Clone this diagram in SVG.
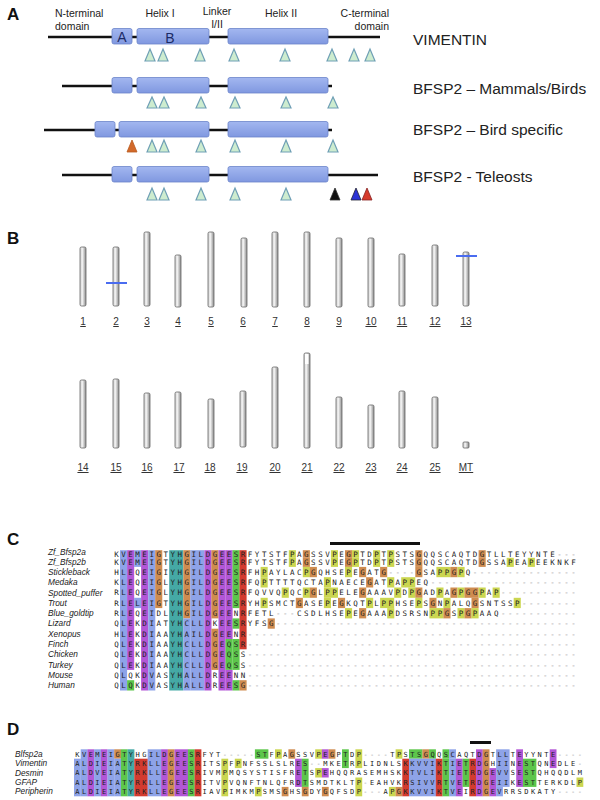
<svg xmlns="http://www.w3.org/2000/svg" width="600" height="800" viewBox="0 0 600 800">
<defs>
<linearGradient id="gb" x1="0" y1="0" x2="0" y2="1"><stop offset="0" stop-color="#a3b7f0"/><stop offset="1" stop-color="#8098e0"/></linearGradient>
<linearGradient id="gc" x1="0" y1="0" x2="1" y2="0"><stop offset="0" stop-color="#d0d0d0"/><stop offset="0.4" stop-color="#f2f2f2"/><stop offset="1" stop-color="#8a8a8a"/></linearGradient>
<style>
.lbl{font-family:"Liberation Sans",Arial,sans-serif;font-weight:bold;font-size:17px;fill:#111}
.dom{font-family:"Liberation Sans",Arial,sans-serif;font-size:10.5px;fill:#222}
.nm{font-family:"Liberation Sans",Arial,sans-serif;font-size:15.5px;fill:#222}
.bx{fill:url(#gb);stroke:#6b84c9;stroke-width:0.8}
.ln{stroke:#111;stroke-width:2.5;fill:none}
.tg{fill:#cdeccf;stroke:#6f9fb5;stroke-width:1.2}
.chr{fill:url(#gc);stroke:#666;stroke-width:0.8}
.cl{font-family:"Liberation Sans",Arial,sans-serif;font-size:10px;text-anchor:middle;text-decoration:underline;fill:#333}
.blu{stroke:#4a6cf0;stroke-width:2}
.sp{font-family:"Liberation Sans",Arial,sans-serif;font-style:italic;font-size:8.3px;fill:#222}
.sq{font-family:"DejaVu Sans Mono",monospace;font-size:7.5px;letter-spacing:2.515px;fill:#222}
.sqd{font-family:"DejaVu Sans Mono",monospace;font-size:7px;letter-spacing:2.486px;fill:#222}
.ds{fill:#999}
.b{fill:#8ea3e8}.p{fill:#b256d6}.t{fill:#45a9a5}.o{fill:#cf8c50}.g{fill:#5dc64b}.r{fill:#d23b2f}.y{fill:#cbd650}
</style>
</defs>
<rect width="600" height="800" fill="#fff"/>

<g id="panelA">
<text class="lbl" x="7" y="20">A</text>
<text class="dom" x="55" y="17">N-terminal</text>
<text class="dom" x="55" y="30">domain</text>
<text class="dom" x="160" y="17" text-anchor="middle">Helix I</text>
<text class="dom" x="217" y="15" text-anchor="middle">Linker</text>
<text class="dom" x="217" y="28" text-anchor="middle">I/II</text>
<text class="dom" x="281" y="17" text-anchor="middle">Helix II</text>
<text class="dom" x="389" y="17" text-anchor="end">C-terminal</text>
<text class="dom" x="389" y="30" text-anchor="end">domain</text>

<g id="vimentin">
<line class="ln" x1="48" y1="37" x2="380" y2="37"/>
<rect class="bx" x="112" y="28.5" width="20" height="15.5" rx="2"/>
<rect class="bx" x="137" y="28.5" width="72" height="15.5" rx="2"/>
<rect class="bx" x="228" y="28.5" width="100" height="15.5" rx="2"/>
<text x="122" y="42" text-anchor="middle" font-family="Liberation Sans, sans-serif" font-size="14" fill="#1c2b66">A</text>
<text x="170" y="43" text-anchor="middle" font-family="Liberation Sans, sans-serif" font-size="14" fill="#1c2b66">B</text>
<polygon class="tg" points="145,61 150,49 155,61"/>
<polygon class="tg" points="158,61 163,49 168,61"/>
<polygon class="tg" points="195,61 200,49 205,61"/>
<polygon class="tg" points="229,61 234,49 239,61"/>
<polygon class="tg" points="280,61 285,49 290,61"/>
<polygon class="tg" points="327,61 332,49 337,61"/>
<polygon class="tg" points="349,61 354,49 359,61"/>
<polygon class="tg" points="365,61 370,49 375,61"/>
<text class="nm" x="413" y="45">VIMENTIN</text>
</g>

<g id="mammals">
<line class="ln" x1="62" y1="86" x2="332" y2="86"/>
<rect class="bx" x="112" y="77.5" width="20" height="15.5" rx="2"/>
<rect class="bx" x="137" y="77.5" width="72" height="15.5" rx="2"/>
<rect class="bx" x="228" y="77.5" width="100" height="15.5" rx="2"/>
<polygon class="tg" points="147,108 152,97 157,108"/>
<polygon class="tg" points="159,108 164,97 169,108"/>
<polygon class="tg" points="196,108 201,97 206,108"/>
<polygon class="tg" points="230,108 235,97 240,108"/>
<polygon class="tg" points="281,108 286,97 291,108"/>
<polygon class="tg" points="328,108 333,97 338,108"/>
<text class="nm" x="413" y="94">BFSP2 – Mammals/Birds</text>
</g>

<g id="birds">
<line class="ln" x1="44" y1="130" x2="332" y2="130"/>
<rect class="bx" x="95" y="121.5" width="20" height="15.5" rx="2"/>
<rect class="bx" x="119" y="121.5" width="90" height="15.5" rx="2"/>
<rect class="bx" x="228" y="121.5" width="100" height="15.5" rx="2"/>
<polygon points="127,152 132,140 137,152" fill="#d2692a" stroke="#b85a20" stroke-width="0.8"/>
<polygon class="tg" points="147,152 152,140 157,152"/>
<polygon class="tg" points="159,152 164,140 169,152"/>
<polygon class="tg" points="196,152 201,140 206,152"/>
<polygon class="tg" points="230,152 235,140 240,152"/>
<polygon class="tg" points="281,152 286,140 291,152"/>
<polygon class="tg" points="328,152 333,140 338,152"/>
<text class="nm" x="413" y="135">BFSP2 – Bird specific</text>
</g>

<g id="teleosts">
<line class="ln" x1="62" y1="175" x2="378" y2="175"/>
<rect class="bx" x="112" y="166.5" width="20" height="15.5" rx="2"/>
<rect class="bx" x="137" y="166.5" width="72" height="15.5" rx="2"/>
<rect class="bx" x="228" y="166.5" width="100" height="15.5" rx="2"/>
<polygon class="tg" points="147,200 152,188 157,200"/>
<polygon class="tg" points="159,200 164,188 169,200"/>
<polygon class="tg" points="196,200 201,188 206,200"/>
<polygon class="tg" points="230,200 235,188 240,200"/>
<polygon class="tg" points="281,200 286,188 291,200"/>
<polygon points="330,200 335,188 340,200" fill="#111" stroke="#333" stroke-width="0.8"/>
<polygon points="351,200 356,188 361,200" fill="#2b33d6" stroke="#223" stroke-width="0.8"/>
<polygon points="362,200 367,188 372,200" fill="#d53a2c" stroke="#822" stroke-width="0.8"/>
<text class="nm" x="413" y="182">BFSP2 - Teleosts</text>
</g>
</g>

<g id="panelB">
<text class="lbl" x="7" y="244">B</text>
<g id="chr-row1">
<rect class="chr" x="80" y="247" width="6" height="59" rx="1.5"/>
<rect class="chr" x="113" y="247" width="6" height="59" rx="1.5"/>
<rect class="chr" x="144" y="232" width="6" height="74" rx="1.5"/>
<rect class="chr" x="175" y="255" width="6" height="52" rx="1.5"/>
<rect class="chr" x="208" y="232" width="6" height="75" rx="1.5"/>
<rect class="chr" x="241" y="238" width="6" height="69" rx="1.5"/>
<rect class="chr" x="272" y="232" width="6" height="75" rx="1.5"/>
<rect class="chr" x="304" y="232" width="6" height="75" rx="1.5"/>
<rect class="chr" x="336" y="238" width="6" height="69" rx="1.5"/>
<rect class="chr" x="368" y="238" width="6" height="69" rx="1.5"/>
<rect class="chr" x="399" y="254" width="6" height="52" rx="1.5"/>
<rect class="chr" x="432" y="245" width="6" height="61" rx="1.5"/>
<rect class="chr" x="463" y="252" width="6" height="54" rx="1.5"/>
<line class="blu" x1="106" y1="283" x2="127" y2="283"/>
<line class="blu" x1="456" y1="256" x2="477" y2="256"/>
<text class="cl" x="83" y="325">1</text>
<text class="cl" x="116" y="325">2</text>
<text class="cl" x="147" y="325">3</text>
<text class="cl" x="178" y="325">4</text>
<text class="cl" x="211" y="325">5</text>
<text class="cl" x="243" y="325">6</text>
<text class="cl" x="275" y="325">7</text>
<text class="cl" x="307" y="325">8</text>
<text class="cl" x="339" y="325">9</text>
<text class="cl" x="371" y="325">10</text>
<text class="cl" x="402" y="325">11</text>
<text class="cl" x="435" y="325">12</text>
<text class="cl" x="466" y="325">13</text>
</g>
<g id="chr-row2">
<rect class="chr" x="80" y="380" width="6" height="68" rx="1.5"/>
<rect class="chr" x="113" y="379" width="6" height="69" rx="1.5"/>
<rect class="chr" x="144" y="393" width="6" height="55" rx="1.5"/>
<rect class="chr" x="175" y="392" width="6" height="56" rx="1.5"/>
<rect class="chr" x="208" y="399" width="6" height="49" rx="1.5"/>
<rect class="chr" x="240" y="391" width="6" height="56" rx="1.5"/>
<rect class="chr" x="272" y="367" width="6" height="81" rx="1.5"/>
<rect class="chr" x="304" y="353" width="6" height="95" rx="1.5"/>
<rect x="305" y="354" width="3.5" height="10" fill="#fff"/>
<rect class="chr" x="336" y="397" width="6" height="51" rx="1.5"/>
<rect class="chr" x="368" y="405" width="6" height="43" rx="1.5"/>
<rect class="chr" x="399" y="391" width="6" height="57" rx="1.5"/>
<rect class="chr" x="432" y="397" width="6" height="51" rx="1.5"/>
<rect class="chr" x="463" y="442" width="6" height="6" rx="1"/>
<text class="cl" x="83" y="471">14</text>
<text class="cl" x="116" y="471">15</text>
<text class="cl" x="147" y="471">16</text>
<text class="cl" x="179" y="471">17</text>
<text class="cl" x="210" y="471">18</text>
<text class="cl" x="242" y="471">19</text>
<text class="cl" x="275" y="471">20</text>
<text class="cl" x="307" y="471">21</text>
<text class="cl" x="339" y="471">22</text>
<text class="cl" x="371" y="471">23</text>
<text class="cl" x="402" y="471">24</text>
<text class="cl" x="435" y="471">25</text>
<text class="cl" x="466" y="471">MT</text>
</g>
</g>

<g id="panelC">
<text class="lbl" x="7" y="545">C</text>
<rect x="330" y="542" width="90" height="3" fill="#111"/>
<g id="c-colors">
<rect class="b" x="120.0" y="550.2" width="7.1" height="140.3"/>
<rect class="p" x="127.1" y="550.2" width="7.1" height="119.7"/>
<rect class="g" x="127.1" y="680.2" width="7.1" height="10.3"/>
<rect class="b" x="134.1" y="550.2" width="7.1" height="16.7"/>
<rect class="b" x="134.1" y="597.8" width="7.1" height="10.3"/>
<rect class="p" x="141.1" y="550.2" width="7.1" height="140.3"/>
<rect class="b" x="148.2" y="550.2" width="7.1" height="140.3"/>
<rect class="o" x="155.2" y="550.2" width="7.1" height="57.9"/>
<rect class="t" x="169.2" y="550.2" width="14.1" height="140.3"/>
<rect class="o" x="183.3" y="550.2" width="7.1" height="68.2"/>
<rect class="b" x="183.3" y="618.4" width="7.1" height="72.1"/>
<rect class="b" x="190.3" y="550.2" width="14.1" height="140.3"/>
<rect class="p" x="204.4" y="550.2" width="7.1" height="140.3"/>
<rect class="o" x="211.4" y="550.2" width="7.1" height="68.2"/>
<rect class="o" x="211.4" y="628.7" width="7.1" height="41.2"/>
<rect class="p" x="218.5" y="550.2" width="7.1" height="140.3"/>
<rect class="p" x="225.5" y="550.2" width="7.1" height="88.8"/>
<rect class="g" x="225.5" y="639.0" width="7.1" height="30.9"/>
<rect class="p" x="225.5" y="669.9" width="7.1" height="20.6"/>
<rect class="g" x="232.5" y="550.2" width="7.1" height="57.9"/>
<rect class="g" x="232.5" y="618.4" width="7.1" height="10.3"/>
<rect class="g" x="232.5" y="639.0" width="7.1" height="30.9"/>
<rect class="g" x="232.5" y="680.2" width="7.1" height="10.3"/>
<rect class="r" x="239.5" y="550.2" width="7.1" height="99.1"/>
<rect class="o" x="239.5" y="680.2" width="7.1" height="10.3"/>
<rect class="y" x="288.8" y="550.2" width="7.1" height="7.6"/>
<rect class="o" x="302.8" y="550.2" width="7.1" height="7.6"/>
<rect class="y" x="330.9" y="550.2" width="7.1" height="7.6"/>
<rect class="o" x="345.0" y="550.2" width="7.1" height="7.6"/>
<rect class="y" x="352.0" y="550.2" width="7.1" height="7.6"/>
<rect class="y" x="373.1" y="550.2" width="7.1" height="7.6"/>
<rect class="y" x="387.2" y="550.2" width="7.1" height="7.6"/>
<rect class="o" x="415.3" y="550.2" width="7.1" height="7.6"/>
<rect class="o" x="478.6" y="550.2" width="7.1" height="7.6"/>
<rect class="y" x="288.8" y="557.8" width="7.1" height="9.1"/>
<rect class="o" x="302.8" y="557.8" width="7.1" height="9.1"/>
<rect class="y" x="330.9" y="557.8" width="7.1" height="9.1"/>
<rect class="o" x="345.0" y="557.8" width="7.1" height="9.1"/>
<rect class="y" x="352.0" y="557.8" width="7.1" height="9.1"/>
<rect class="y" x="373.1" y="557.8" width="7.1" height="9.1"/>
<rect class="y" x="387.2" y="557.8" width="7.1" height="9.1"/>
<rect class="o" x="415.3" y="557.8" width="7.1" height="9.1"/>
<rect class="o" x="478.6" y="557.8" width="7.1" height="9.1"/>
<rect class="y" x="506.7" y="557.8" width="7.1" height="9.1"/>
<rect class="y" x="527.8" y="557.8" width="7.1" height="9.1"/>
<rect class="y" x="260.6" y="566.9" width="7.1" height="10.3"/>
<rect class="y" x="302.8" y="566.9" width="7.1" height="10.3"/>
<rect class="o" x="309.8" y="566.9" width="7.1" height="10.3"/>
<rect class="y" x="345.0" y="566.9" width="7.1" height="10.3"/>
<rect class="o" x="359.1" y="566.9" width="7.1" height="10.3"/>
<rect class="o" x="380.1" y="566.9" width="7.1" height="10.3"/>
<rect class="o" x="415.3" y="566.9" width="7.1" height="10.3"/>
<rect class="y" x="436.4" y="566.9" width="14.1" height="10.3"/>
<rect class="o" x="450.4" y="566.9" width="7.1" height="10.3"/>
<rect class="y" x="457.5" y="566.9" width="7.1" height="10.3"/>
<rect class="y" x="260.6" y="577.2" width="7.1" height="10.3"/>
<rect class="y" x="323.9" y="577.2" width="7.1" height="10.3"/>
<rect class="o" x="366.1" y="577.2" width="7.1" height="10.3"/>
<rect class="y" x="387.2" y="577.2" width="7.1" height="10.3"/>
<rect class="y" x="401.2" y="577.2" width="14.1" height="10.3"/>
<rect class="y" x="281.7" y="587.5" width="7.1" height="10.3"/>
<rect class="y" x="302.8" y="587.5" width="7.1" height="10.3"/>
<rect class="o" x="309.8" y="587.5" width="7.1" height="10.3"/>
<rect class="y" x="323.9" y="587.5" width="14.1" height="10.3"/>
<rect class="o" x="359.1" y="587.5" width="7.1" height="10.3"/>
<rect class="y" x="394.2" y="587.5" width="7.1" height="10.3"/>
<rect class="y" x="408.3" y="587.5" width="7.1" height="10.3"/>
<rect class="o" x="415.3" y="587.5" width="7.1" height="10.3"/>
<rect class="y" x="436.4" y="587.5" width="7.1" height="10.3"/>
<rect class="o" x="450.4" y="587.5" width="7.1" height="10.3"/>
<rect class="y" x="457.5" y="587.5" width="7.1" height="10.3"/>
<rect class="o" x="464.5" y="587.5" width="14.1" height="10.3"/>
<rect class="y" x="478.6" y="587.5" width="7.1" height="10.3"/>
<rect class="y" x="492.6" y="587.5" width="7.1" height="10.3"/>
<rect class="y" x="260.6" y="597.8" width="7.1" height="10.3"/>
<rect class="o" x="295.8" y="597.8" width="7.1" height="10.3"/>
<rect class="y" x="323.9" y="597.8" width="7.1" height="10.3"/>
<rect class="o" x="338.0" y="597.8" width="7.1" height="10.3"/>
<rect class="y" x="366.1" y="597.8" width="7.1" height="10.3"/>
<rect class="y" x="380.1" y="597.8" width="14.1" height="10.3"/>
<rect class="y" x="415.3" y="597.8" width="7.1" height="10.3"/>
<rect class="o" x="429.4" y="597.8" width="7.1" height="10.3"/>
<rect class="y" x="443.4" y="597.8" width="7.1" height="10.3"/>
<rect class="o" x="471.5" y="597.8" width="7.1" height="10.3"/>
<rect class="y" x="513.7" y="597.8" width="7.1" height="10.3"/>
<rect class="y" x="345.0" y="608.1" width="7.1" height="10.3"/>
<rect class="o" x="359.1" y="608.1" width="7.1" height="10.3"/>
<rect class="y" x="387.2" y="608.1" width="7.1" height="10.3"/>
<rect class="y" x="429.4" y="608.1" width="14.1" height="10.3"/>
<rect class="o" x="443.4" y="608.1" width="7.1" height="10.3"/>
<rect class="y" x="457.5" y="608.1" width="7.1" height="10.3"/>
<rect class="o" x="464.5" y="608.1" width="7.1" height="10.3"/>
<rect class="y" x="471.5" y="608.1" width="7.1" height="10.3"/>
<rect class="o" x="267.7" y="618.4" width="7.1" height="10.3"/>
</g>
<g id="c-names">
<text class="sp" x="48" y="555.4" font-size="7.6">Zf_Bfsp2a</text>
<text class="sp" x="48" y="564.9" font-size="7.6">Zf_Bfsp2b</text>
<text class="sp" x="48" y="574.9">Stickleback</text>
<text class="sp" x="48" y="585.2">Medaka</text>
<text class="sp" x="48" y="595.5">Spotted_puffer</text>
<text class="sp" x="48" y="605.8">Trout</text>
<text class="sp" x="48" y="616.1">Blue_goldtip</text>
<text class="sp" x="48" y="626.4">Lizard</text>
<text class="sp" x="48" y="636.7">Xenopus</text>
<text class="sp" x="48" y="647.0">Finch</text>
<text class="sp" x="48" y="657.3">Chicken</text>
<text class="sp" x="48" y="667.6">Turkey</text>
<text class="sp" x="48" y="677.9">Mouse</text>
<text class="sp" x="48" y="688.2">Human</text>
</g>
<g id="c-seqs">
<text class="sq" x="114.26" y="556.5">KVEMEIGTYHGILDGEESRFYTSTFPAGSSVPEGPTDPTPSTSGQQSCAQTDGTLLTEYYNTE<tspan class="ds">---</tspan></text>
<text class="sq" x="114.26" y="564.8">KVEMEIGTYHGILDGEESRFYTSTFPAGSSVPEGPTDPTPSTSGQQSCAQTDGSSAPEAPEEKNKF</text>
<text class="sq" x="114.26" y="574.8">HLEQEIGIYHGILDGEESRFHPAYLACPGQHSEPEGATG<tspan class="ds">----</tspan>GSAPPGPQ<tspan class="ds">---------------</tspan></text>
<text class="sq" x="114.26" y="585.1">KLEQEIGLYHGILDGEESRFQPTTTTQCTAPNAECEGATPAPPEQ<tspan class="ds">---------------------</tspan></text>
<text class="sq" x="114.26" y="595.4">RLEQEIGLYHGILDGEESRFQVVQPQCPGLPPELEGAAAVPDPGADPAGPGGPAP<tspan class="ds">-----------</tspan></text>
<text class="sq" x="114.26" y="605.7">RLELEIGTYHGILDGEESRYHPSMCTGASEPEGKQTPLPPHSEPSGNPALQGSNTSSP<tspan class="ds">--------</tspan></text>
<text class="sq" x="114.26" y="616.0">RLEQEIDLYHGILDGEENRFETL<tspan class="ds">---</tspan>CSDLHSEPEGAAAPDSRSNPPGSPGPAAQ<tspan class="ds">-----------</tspan></text>
<text class="sq" x="114.26" y="626.3">QLEKDIATYHCLLDKEESRYFSG<tspan class="ds">-------------------------------------------</tspan></text>
<text class="sq" x="114.26" y="636.6">HLEKDIAAYHAILDGEENR<tspan class="ds">-----------------------------------------------</tspan></text>
<text class="sq" x="114.26" y="646.9">QLEKDIAAYHCLLDGEQSR<tspan class="ds">-----------------------------------------------</tspan></text>
<text class="sq" x="114.26" y="657.2">QLEKDIAAYHCLLDGEQSS<tspan class="ds">-----------------------------------------------</tspan></text>
<text class="sq" x="114.26" y="667.5">QLEKDIAAYHCLLDGEQSS<tspan class="ds">-----------------------------------------------</tspan></text>
<text class="sq" x="114.26" y="677.8">QLQKDVASYHALLDREENN<tspan class="ds">-----------------------------------------------</tspan></text>
<text class="sq" x="114.26" y="688.1">QLQKDVASYHALLDREESG<tspan class="ds">-----------------------------------------------</tspan></text>
</g>
</g>

<g id="panelD">
<text class="lbl" x="7" y="735">D</text>
<rect x="470" y="741" width="21" height="3" fill="#111"/>
<g id="d-colors">
<rect class="b" x="74.0" y="758.7" width="6.8" height="37.6"/>
<rect class="b" x="80.7" y="749.3" width="6.8" height="47"/>
<rect class="p" x="87.4" y="749.3" width="6.8" height="47"/>
<rect class="b" x="94.1" y="749.3" width="6.8" height="47"/>
<rect class="p" x="100.8" y="749.3" width="6.8" height="47"/>
<rect class="b" x="107.5" y="749.3" width="6.8" height="47"/>
<rect class="o" x="114.2" y="749.3" width="6.8" height="9.4"/>
<rect class="b" x="114.2" y="758.7" width="6.8" height="37.6"/>
<rect class="g" x="120.9" y="749.3" width="6.8" height="47"/>
<rect class="t" x="127.6" y="749.3" width="6.8" height="47"/>
<rect class="r" x="134.3" y="758.7" width="13.5" height="37.6"/>
<rect class="b" x="147.7" y="749.3" width="13.5" height="47"/>
<rect class="p" x="161.1" y="749.3" width="6.8" height="47"/>
<rect class="o" x="167.8" y="749.3" width="6.8" height="47"/>
<rect class="p" x="174.5" y="749.3" width="13.5" height="47"/>
<rect class="g" x="187.9" y="749.3" width="6.8" height="47"/>
<rect class="r" x="194.6" y="749.3" width="6.8" height="47"/>
<rect class="y" x="221.4" y="758.7" width="6.8" height="37.6"/>
<rect class="y" x="234.8" y="758.7" width="6.8" height="9.4"/>
<rect class="g" x="254.9" y="749.3" width="13.5" height="9.4"/>
<rect class="y" x="254.9" y="786.9" width="6.8" height="9.4"/>
<rect class="y" x="275.0" y="749.3" width="6.8" height="9.4"/>
<rect class="o" x="281.7" y="786.9" width="6.8" height="9.4"/>
<rect class="o" x="288.4" y="749.3" width="6.8" height="9.4"/>
<rect class="p" x="295.1" y="758.7" width="6.8" height="28.2"/>
<rect class="g" x="301.8" y="758.7" width="6.8" height="28.2"/>
<rect class="o" x="301.8" y="786.9" width="6.8" height="9.4"/>
<rect class="y" x="315.2" y="749.3" width="6.8" height="9.4"/>
<rect class="p" x="321.9" y="749.3" width="6.8" height="9.4"/>
<rect class="o" x="328.6" y="749.3" width="6.8" height="9.4"/>
<rect class="y" x="315.2" y="768.1" width="6.8" height="9.4"/>
<rect class="p" x="321.9" y="768.1" width="6.8" height="9.4"/>
<rect class="o" x="321.9" y="786.9" width="6.8" height="9.4"/>
<rect class="g" x="342.0" y="749.3" width="6.8" height="18.8"/>
<rect class="y" x="355.4" y="749.3" width="6.8" height="18.8"/>
<rect class="y" x="355.4" y="777.5" width="6.8" height="18.8"/>
<rect class="y" x="388.9" y="786.9" width="6.8" height="9.4"/>
<rect class="y" x="395.6" y="749.3" width="6.8" height="9.4"/>
<rect class="o" x="395.6" y="786.9" width="6.8" height="9.4"/>
<rect class="r" x="402.3" y="758.7" width="6.8" height="37.6"/>
<rect class="g" x="409.0" y="749.3" width="13.5" height="9.4"/>
<rect class="o" x="422.4" y="749.3" width="6.8" height="9.4"/>
<rect class="g" x="429.1" y="749.3" width="6.8" height="9.4"/>
<rect class="g" x="442.5" y="749.3" width="6.8" height="9.4"/>
<rect class="b" x="449.2" y="749.3" width="6.8" height="9.4"/>
<rect class="b" x="409.0" y="758.7" width="26.9" height="37.6"/>
<rect class="r" x="435.8" y="758.7" width="6.8" height="37.6"/>
<rect class="g" x="442.5" y="758.7" width="6.8" height="37.6"/>
<rect class="b" x="449.2" y="758.7" width="6.8" height="37.6"/>
<rect class="p" x="455.9" y="758.7" width="6.8" height="37.6"/>
<rect class="g" x="462.6" y="758.7" width="6.8" height="28.2"/>
<rect class="r" x="469.3" y="758.7" width="6.8" height="37.6"/>
<rect class="p" x="476.0" y="749.3" width="6.8" height="47"/>
<rect class="o" x="482.7" y="749.3" width="6.8" height="47"/>
<rect class="p" x="489.4" y="768.1" width="6.8" height="28.2"/>
<rect class="b" x="496.1" y="749.3" width="13.5" height="37.6"/>
<rect class="b" x="496.1" y="786.9" width="6.8" height="9.4"/>
<rect class="p" x="516.2" y="749.3" width="6.8" height="37.6"/>
<rect class="g" x="522.9" y="758.7" width="13.5" height="28.2"/>
<rect class="p" x="549.7" y="749.3" width="6.8" height="18.8"/>
<rect class="y" x="576.5" y="777.5" width="6.8" height="9.4"/>
</g>
<g id="d-names">
<text class="sp" x="15" y="756.8" font-size="8">Blfsp2a</text>
<text class="sp" x="15" y="766.2" font-size="8">Vimentin</text>
<text class="sp" x="15" y="775.6" font-size="8">Desmin</text>
<text class="sp" x="15" y="785.0" font-size="8">GFAP</text>
<text class="sp" x="15" y="794.4" font-size="8">Peripherin</text>
</g>
<g id="d-seqs">
<text class="sqd" x="75.24" y="756.6">KVEMEIGTYHGILDGEESRFYT<tspan class="ds">-----</tspan>STFPAGSSVPEGPTDP<tspan class="ds">----</tspan>TPSTSGQQSCAQTDGTLLTEYYNTE<tspan class="ds">----</tspan></text>
<text class="sqd" x="75.24" y="766.0">ALDIEIATYRKLLEGEESRITSPFPNFSSLSLRES<tspan class="ds">--</tspan>MKETRPLIDNLSKKVVIKTIETRDGHIINESTQNEDLE<tspan class="ds">-</tspan></text>
<text class="sqd" x="75.24" y="775.4">ALDVEIATYRKLLEGEESRIVMPMQSYSTISFRETSPEHQQRASEMHSKKTVLIKTIETRDGEVVSESTQHQQDLM</text>
<text class="sqd" x="75.24" y="784.8">ALDIEIATYRKLLEGEESRITVPVQNFTNLQFRDTSMDTKLTP<tspan class="ds">-</tspan>EAHVKRSIVVRTVETRDGEIIKESTTERKDLP</text>
<text class="sqd" x="75.24" y="794.2">ALDIEIATYRKLLEGEESRIAVPIMKMPSMSGHSGDYGQFSDP<tspan class="ds">---</tspan>APGKKVVIKTVEIRDGEVRRSDKATY<tspan class="ds">----</tspan></text>
</g>
</g>
</svg>
